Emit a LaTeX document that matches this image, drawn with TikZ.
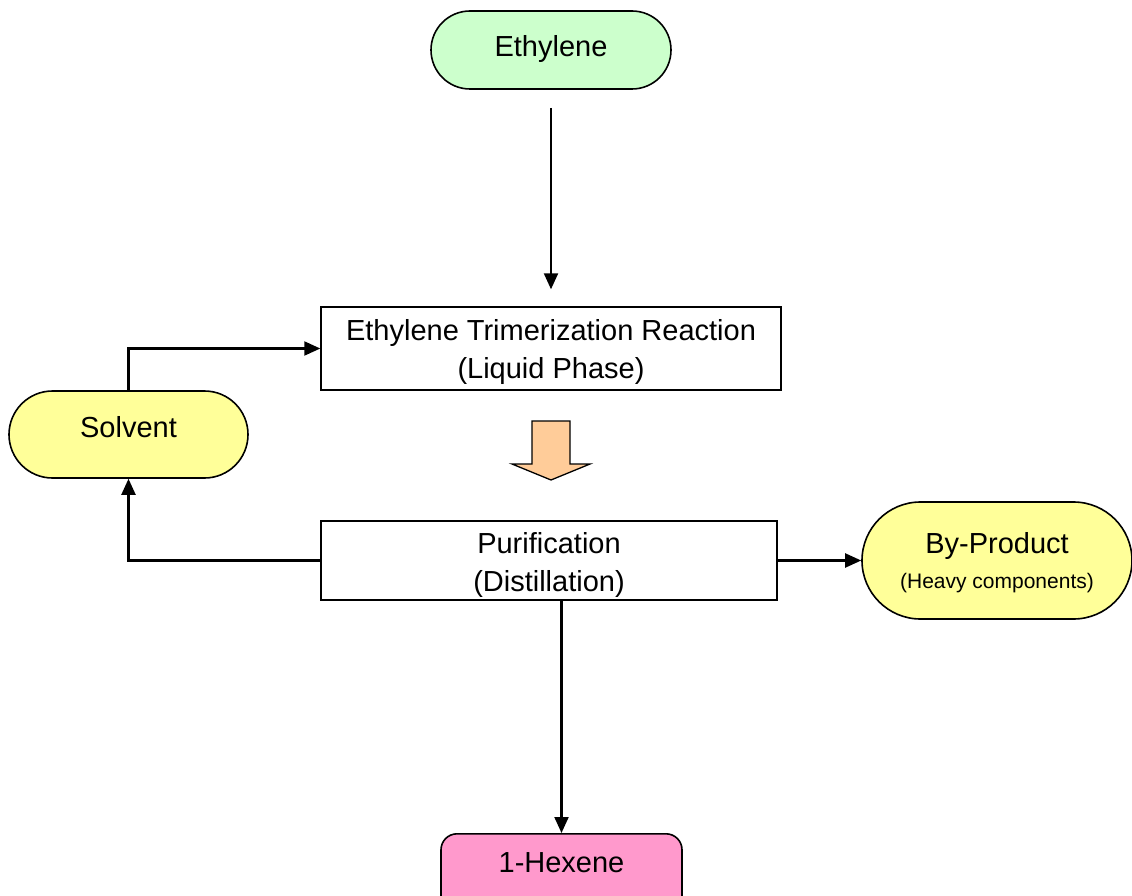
\documentclass[tikz,border=0pt]{standalone}
\usepackage{fontspec}
\setmainfont{Liberation Sans}
\usetikzlibrary{arrows.meta}
\definecolor{ethgreen}{HTML}{CCFFCC}
\definecolor{solvyellow}{HTML}{FFFF99}
\definecolor{hexpink}{HTML}{FF99CC}
\definecolor{peach}{HTML}{FFCC99}
\begin{document}
\begin{tikzpicture}[x=1pt,y=-1pt,
  txt/.style={font=\fontsize{29}{38.5}\selectfont, align=center, inner sep=0pt},
  boxnode/.style={txt, draw, line width=1.4pt, fill=white},
  stadium/.style={txt, draw, line width=1.6pt},
  conn/.style={line width=2.1pt, -{Triangle[length=16pt,width=14pt]}}
]
\useasboundingbox (0,0) rectangle (1132,896);
\node[stadium, fill=ethgreen, minimum width=240pt, minimum height=78pt, rounded corners=39pt, text height=21pt, text depth=8pt] (eth) at (551,50) {Ethylene};
\node[boxnode, minimum width=460pt, minimum height=83pt, text height=66pt, text depth=6pt] (react) at (551,348.5) {Ethylene Trimerization Reaction\\(Liquid Phase)};
\node[stadium, fill=solvyellow, minimum width=239pt, minimum height=87pt, rounded corners=43.5pt, text height=21pt, text depth=15pt] (solv) at (128.5,434.5) {Solvent};
\node[boxnode, minimum width=456pt, minimum height=79pt, text height=68pt, text depth=6pt] (pur) at (549,560.5) {Purification\\(Distillation)};
\node[stadium, fill=solvyellow, minimum width=270pt, minimum height=117pt, rounded corners=58.5pt, text height=62pt, text depth=6pt] (byp) at (997,560.5) {By-Product\\[-3pt]{\fontsize{21}{26}\selectfont (Heavy components)}};
\node[stadium, fill=hexpink, anchor=north, minimum width=241pt, minimum height=100pt, rounded corners=16pt, text height=21pt, text depth=43pt] (hex) at (561.5,833) {1-Hexene};
\draw[conn, shorten <=18pt, shorten >=17pt] (eth) -- (react);
\draw[conn] (solv.north) |- (react.west);
\draw[conn] (pur.west) -| (solv.south);
\draw[conn] (pur.east) -- (byp.west);
\draw[conn] (pur.south -| hex.north) -- (hex.north);
\draw[line width=1.3pt, fill=peach] (532,421) -- (570,421) -- (570,464) -- (590,464) -- (551,480) -- (512,464) -- (532,464) -- cycle;
\end{tikzpicture}
\end{document}
